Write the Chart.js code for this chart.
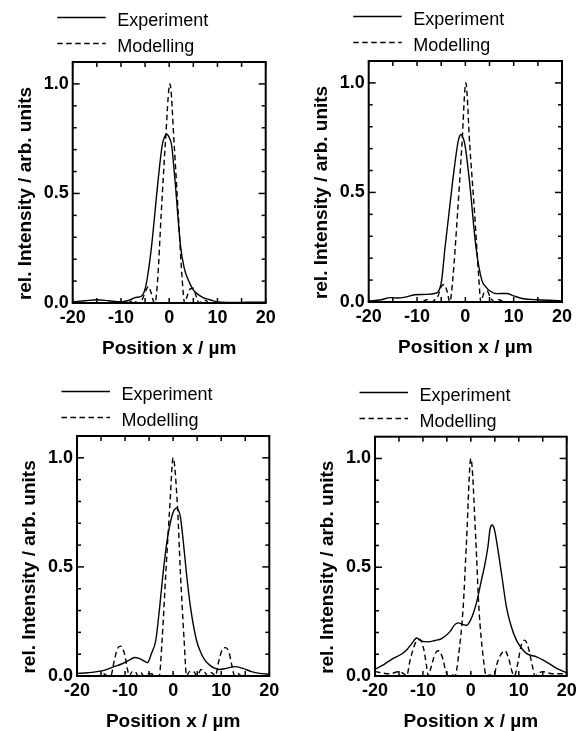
<!DOCTYPE html>
<html>
<head>
<meta charset="utf-8">
<script src="https://cdn.jsdelivr.net/npm/chart.js@4.4.1/dist/chart.umd.min.js"></script>
<style>
  html, body { margin: 0; padding: 0; background: #fff; }
  body { width: 584px; height: 731px; position: relative; overflow: hidden; }
  canvas { position: absolute; }
</style>
</head>
<body>
<canvas id="c1" width="292" height="365" style="left:0;top:0"></canvas>
<canvas id="c2" width="292" height="365" style="left:292px;top:0"></canvas>
<canvas id="c3" width="292" height="366" style="left:0;top:365px"></canvas>
<canvas id="c4" width="292" height="366" style="left:292px;top:365px"></canvas>
<script>
// tick values
const xLabels = [-20, -10, 0, 10, 20];
const xMarks = [-20, -15, -10, -5, 0, 5, 10, 15, 20];
const yLabels = [0, 0.5, 1.0];
const yMarks = [0.1, 0.2, 0.3, 0.4, 0.5, 0.6, 0.7, 0.8, 0.9, 1.0];
const seriesNames = ['Experiment', 'Modelling'];

// top left
const exp1X = [-20, -17.5, -15, -12.5, -10, -8, -7, -5.8, -5.2, -4.6, -3.65, -2.3, -1.45, -1.0, -0.5, 0, 0.5, 1.2, 2.35, 3.1, 3.95, 5, 5.7, 7, 8.4, 10, 12, 15, 17.5, 20];
const exp1Y = [0.005, 0.01, 0.015, 0.01, 0.005, 0.015, 0.025, 0.03, 0.05, 0.105, 0.26, 0.56, 0.72, 0.755, 0.77, 0.755, 0.72, 0.56, 0.26, 0.16, 0.105, 0.06, 0.044, 0.025, 0.015, 0.005, 0.003, 0.003, 0.004, 0.004];
const mod1X = [-20, -9, -8, -7.5, -7, -6.2, -5.5, -4.8, -4.3, -3.8, -3.3, -2.95, -2.4, -1.65, -0.82, 0.15, 1.04, 1.87, 2.7, 3.2, 3.7, 4.4, 5, 5.6, 6.2, 7, 7.6, 8.2, 20];
const mod1Y = [0, 0, 0.005, 0.012, 0.005, 0, 0.02, 0.06, 0.075, 0.05, 0.01, 0, 0.105, 0.41, 0.72, 1.0, 0.72, 0.41, 0.105, 0, 0.03, 0.065, 0.067, 0.03, 0, 0.01, 0.012, 0, 0];

// top right
const exp2X = [-20, -17.5, -15.5, -14, -12.5, -10.5, -8, -6.2, -5.6, -4.9, -4.2, -2.6, -1.6, -1.3, -0.9, -0.5, -0.1, 0.83, 2.2, 3.4, 4.2, 5.1, 6.5, 8.6, 10, 12, 15, 20];
const exp2Y = [0.005, 0.01, 0.02, 0.018, 0.022, 0.033, 0.035, 0.04, 0.047, 0.1, 0.25, 0.556, 0.72, 0.75, 0.765, 0.75, 0.72, 0.556, 0.25, 0.1, 0.07, 0.05, 0.038, 0.039, 0.028, 0.015, 0.01, 0.005];
const mod2X = [-20, -9, -8, -7, -6.3, -5.6, -5, -4.4, -3.8, -3.2, -2.6, -1.6, -0.7, 0.1, 0.9, 1.9, 2.8, 3.2, 3.8, 4.5, 5.2, 6, 7, 8, 20];
const mod2Y = [0, 0, 0.01, 0, 0.01, 0.03, 0.07, 0.08, 0.05, 0, 0.105, 0.41, 0.72, 1.0, 0.72, 0.41, 0.105, 0, 0.04, 0.05, 0.02, 0, 0.01, 0, 0];

// bottom left
const exp3X = [-20, -17.7, -14.2, -12, -10.7, -9.2, -8, -7, -6, -5.35, -4.5, -3.6, -2.8, -2.1, -1.25, -0.3, 0.2, 0.7, 1.1, 1.5, 2.08, 2.77, 3.6, 4.84, 5.7, 6.6, 7.6, 8.7, 9.7, 11, 12.8, 14.5, 16.3, 18, 20];
const exp3Y = [0.012, 0.015, 0.027, 0.045, 0.055, 0.072, 0.085, 0.08, 0.068, 0.061, 0.104, 0.165, 0.317, 0.47, 0.622, 0.73, 0.76, 0.77, 0.76, 0.73, 0.622, 0.47, 0.317, 0.165, 0.11, 0.073, 0.05, 0.035, 0.03, 0.035, 0.043, 0.035, 0.02, 0.012, 0.008];
const mod3X = [-20, -15.5, -14.5, -13.6, -13, -12.3, -11.6, -10.9, -10.1, -9.5, -9.1, -8.5, -7.9, -7.3, -6.7, -6.1, -5.3, -4.5, -3.7, -2.9, -2.3, -1.53, -0.7, 0, 0.9, 1.52, 2.28, 2.8, 3.4, 4.2, 5, 5.8, 6.5, 7.2, 8, 8.8, 9.4, 10.2, 10.9, 11.6, 12.2, 12.8, 13.5, 14.3, 15, 20];
const mod3Y = [0, 0, 0.01, 0, 0, 0.065, 0.125, 0.137, 0.1, 0.03, 0, 0.02, 0.02, 0, 0.015, 0, 0.01, 0.01, 0, 0, 0.165, 0.47, 0.776, 1.0, 0.776, 0.47, 0.165, 0, 0.02, 0.02, 0, 0.03, 0.02, 0, 0.015, 0, 0.06, 0.12, 0.13, 0.11, 0.05, 0, 0.01, 0, 0, 0];

// bottom right
const exp4X = [-20, -18, -16.2, -14.5, -13.4, -12.3, -11.3, -10.3, -8.9, -7.5, -6.1, -4.4, -3.4, -2.64, -1.8, -0.9, 0, 0.5, 1.3, 2.2, 2.9, 3.6, 4.0, 4.44, 4.9, 5.35, 6.4, 7.43, 8.4, 9.5, 10.5, 11.6, 13.7, 15.1, 16.5, 17.9, 20];
const exp4Y = [0.03, 0.055, 0.081, 0.1, 0.119, 0.15, 0.175, 0.16, 0.157, 0.163, 0.172, 0.203, 0.235, 0.244, 0.238, 0.233, 0.26, 0.287, 0.348, 0.44, 0.51, 0.6, 0.675, 0.694, 0.675, 0.622, 0.47, 0.317, 0.23, 0.165, 0.13, 0.104, 0.088, 0.073, 0.055, 0.035, 0.015];
const mod4X = [-20, -17, -15, -14, -13.4, -12.7, -11.6, -10.6, -9.8, -9.2, -8.9, -8.3, -7.5, -6.8, -6, -5.2, -4.7, -3.9, -3.3, -2.6, -1.6, -0.9, 0, 1.04, 1.67, 2.57, 3.25, 3.9, 4.7, 5.5, 6.3, 7.1, 7.9, 8.6, 9.1, 9.8, 10.5, 11.25, 12, 12.8, 13.4, 14, 15, 17, 20];
const mod4Y = [0.02, 0.01, 0.02, 0.01, 0, 0.07, 0.15, 0.168, 0.12, 0.04, 0, 0.04, 0.1, 0.116, 0.09, 0.02, 0, 0.005, 0, 0.088, 0.317, 0.622, 1.0, 0.622, 0.317, 0.088, 0, 0.005, 0, 0.06, 0.1, 0.116, 0.08, 0.02, 0, 0.06, 0.14, 0.165, 0.13, 0.05, 0, 0.01, 0.02, 0.01, 0.01];

const FONT = '"Liberation Sans", Arial, Helvetica, sans-serif';
const DASH = [5.5, 3.5];

function pts(xs, ys) {
    return xs.map((x, i) => ({x: x, y: ys[i]}));
}

// frame, inward ticks, axis titles and legend
const framePlugin = {
    id: 'frame',
    afterDraw(chart) {
        const ctx = chart.ctx;
        const a = chart.chartArea;
        const sx = chart.scales.x, sy = chart.scales.y;
        const seg = (x1, y1, x2, y2) => { ctx.beginPath(); ctx.moveTo(x1, y1); ctx.lineTo(x2, y2); ctx.stroke(); };
        ctx.save();
        ctx.strokeStyle = '#000';
        ctx.lineWidth = 1.5;
        xMarks.forEach(v => {
            const px = sx.getPixelForValue(v);
            seg(px, a.bottom, px, a.bottom - 5);
            seg(px, a.top, px, a.top + 5);
        });
        yMarks.forEach(v => {
            const py = sy.getPixelForValue(v);
            const len = yLabels.includes(v) ? 7 : 4;
            seg(a.left, py, a.left + len, py);
            seg(a.right, py, a.right - len, py);
        });
        ctx.lineWidth = 2;
        ctx.strokeRect(a.left, a.top, a.right - a.left, a.bottom - a.top);

        ctx.fillStyle = '#000';
        ctx.font = 'bold 19px ' + FONT;
        ctx.textAlign = 'center';
        ctx.textBaseline = 'alphabetic';
        ctx.fillText('Position x / µm', (a.left + a.right) / 2, a.bottom + 51);
        ctx.save();
        ctx.translate(a.left - 47, (sy.getPixelForValue(0) + sy.getPixelForValue(1)) / 2);
        ctx.rotate(-Math.PI / 2);
        ctx.textBaseline = 'middle';
        ctx.fillText('rel. Intensity / arb. units', 0, 0);
        ctx.restore();

        ctx.font = '18px ' + FONT;
        ctx.textAlign = 'left';
        ctx.textBaseline = 'alphabetic';
        ctx.lineWidth = 1.4;
        chart.data.datasets.forEach((ds, i) => {
            const ly = Math.round(a.top - 45 + i * 26) + 0.5;
            ctx.setLineDash(ds.borderDash || []);
            seg(a.left - 15.5, ly, a.left + 33, ly);
            ctx.setLineDash([]);
            ctx.fillText(ds.label, a.left + 44.5, ly + 8);
        });
        ctx.restore();
    }
};

function makeChart(id, expPts, modPts, box) {
    const canvas = document.getElementById(id);
    return new Chart(canvas, {
        type: 'line',
        data: {
            datasets: [{
                label: seriesNames[0],
                data: expPts,
                borderColor: '#000',
                borderWidth: 1.4,
                pointRadius: 0,
                cubicInterpolationMode: 'monotone'
            }, {
                label: seriesNames[1],
                data: modPts,
                borderColor: '#000',
                borderWidth: 1.4,
                borderDash: DASH,
                pointRadius: 0,
                cubicInterpolationMode: 'monotone'
            }]
        },
        options: {
            responsive: false,
            animation: false,
            layout: {
                padding: {top: box.top, right: canvas.width - box.right, left: 0, bottom: 0}
            },
            plugins: {
                legend: {display: false},
                tooltip: {enabled: false}
            },
            scales: {
                x: {
                    type: 'linear',
                    min: -20,
                    max: 20,
                    afterBuildTicks: s => { s.ticks = xLabels.map(v => ({value: v})); },
                    afterFit: s => { s.height = canvas.height - box.bottom; },
                    grid: {display: false, drawTicks: false},
                    border: {display: false},
                    ticks: {
                        color: '#000',
                        padding: 4,
                        maxRotation: 0,
                        font: {family: FONT, size: 18, weight: 'bold'}
                    }
                },
                y: {
                    type: 'linear',
                    min: 0,
                    max: 1.1,
                    afterBuildTicks: s => { s.ticks = yLabels.map(v => ({value: v})); },
                    afterFit: s => { s.width = box.left; },
                    grid: {display: false, drawTicks: false},
                    border: {display: false},
                    ticks: {
                        color: '#000',
                        padding: 4,
                        font: {family: FONT, size: 18, weight: 'bold'},
                        callback: v => v.toFixed(1)
                    }
                }
            }
        },
        plugins: [framePlugin]
    });
}

makeChart('c1', pts(exp1X, exp1Y), pts(mod1X, mod1Y), {left: 72.7, top: 62, right: 265.7, bottom: 303});
makeChart('c2', pts(exp2X, exp2Y), pts(mod2X, mod2Y), {left: 76.7, top: 61, right: 270, bottom: 302});
makeChart('c3', pts(exp3X, exp3Y), pts(mod3X, mod3Y), {left: 77, top: 71, right: 269.3, bottom: 311});
makeChart('c4', pts(exp4X, exp4Y), pts(mod4X, mod4Y), {left: 83, top: 71.7, right: 274.7, bottom: 311});
</script>
</body>
</html>
